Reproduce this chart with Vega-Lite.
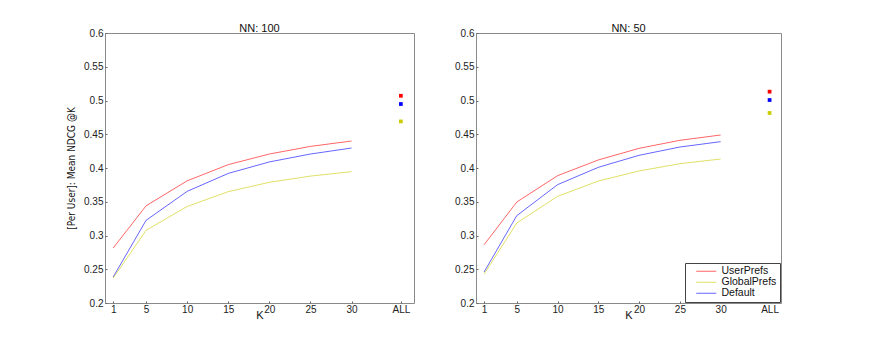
{
  "$schema": "https://vega.github.io/schema/vega-lite/v6.json",
  "padding": {"left": 66, "top": 22, "right": 0, "bottom": 0},
  "background": "white",
  "config": {
    "font": "Liberation Sans",
    "view": {"stroke": "#8a8a8a", "strokeWidth": 1},
    "axis": {
      "domain": false, "grid": false, "tickSize": -2, "tickColor": "#666",
      "labelFont": "Liberation Sans", "labelFontSize": 10, "labelColor": "#222",
      "titleFont": "Liberation Sans", "titleFontWeight": "normal", "titleColor": "#111"
    },
    "title": {"font": "Liberation Sans", "fontSize": 11, "fontWeight": "normal", "color": "#111", "offset": -6}
  },
  "datasets": {
    "ndcg": [
      {"nn": 100, "series": "UserPrefs", "k": 1, "v": 0.2815},
      {"nn": 100, "series": "UserPrefs", "k": 5, "v": 0.344},
      {"nn": 100, "series": "UserPrefs", "k": 10, "v": 0.381},
      {"nn": 100, "series": "UserPrefs", "k": 15, "v": 0.405},
      {"nn": 100, "series": "UserPrefs", "k": 20, "v": 0.4207},
      {"nn": 100, "series": "UserPrefs", "k": 25, "v": 0.432},
      {"nn": 100, "series": "UserPrefs", "k": 30, "v": 0.44},
      {"nn": 100, "series": "Default", "k": 1, "v": 0.2385},
      {"nn": 100, "series": "Default", "k": 5, "v": 0.3225},
      {"nn": 100, "series": "Default", "k": 10, "v": 0.3654},
      {"nn": 100, "series": "Default", "k": 15, "v": 0.392},
      {"nn": 100, "series": "Default", "k": 20, "v": 0.409},
      {"nn": 100, "series": "Default", "k": 25, "v": 0.4207},
      {"nn": 100, "series": "Default", "k": 30, "v": 0.4296},
      {"nn": 100, "series": "GlobalPrefs", "k": 1, "v": 0.237},
      {"nn": 100, "series": "GlobalPrefs", "k": 5, "v": 0.3077},
      {"nn": 100, "series": "GlobalPrefs", "k": 10, "v": 0.343},
      {"nn": 100, "series": "GlobalPrefs", "k": 15, "v": 0.365},
      {"nn": 100, "series": "GlobalPrefs", "k": 20, "v": 0.3788},
      {"nn": 100, "series": "GlobalPrefs", "k": 25, "v": 0.388},
      {"nn": 100, "series": "GlobalPrefs", "k": 30, "v": 0.3946},
      {"nn": 50, "series": "UserPrefs", "k": 1, "v": 0.2864},
      {"nn": 50, "series": "UserPrefs", "k": 5, "v": 0.3496},
      {"nn": 50, "series": "UserPrefs", "k": 10, "v": 0.3886},
      {"nn": 50, "series": "UserPrefs", "k": 15, "v": 0.4119},
      {"nn": 50, "series": "UserPrefs", "k": 20, "v": 0.4291},
      {"nn": 50, "series": "UserPrefs", "k": 25, "v": 0.441},
      {"nn": 50, "series": "UserPrefs", "k": 30, "v": 0.4489},
      {"nn": 50, "series": "Default", "k": 1, "v": 0.246},
      {"nn": 50, "series": "Default", "k": 5, "v": 0.3294},
      {"nn": 50, "series": "Default", "k": 10, "v": 0.3753},
      {"nn": 50, "series": "Default", "k": 15, "v": 0.401},
      {"nn": 50, "series": "Default", "k": 20, "v": 0.4188},
      {"nn": 50, "series": "Default", "k": 25, "v": 0.4311},
      {"nn": 50, "series": "Default", "k": 30, "v": 0.439},
      {"nn": 50, "series": "GlobalPrefs", "k": 1, "v": 0.243},
      {"nn": 50, "series": "GlobalPrefs", "k": 5, "v": 0.3185},
      {"nn": 50, "series": "GlobalPrefs", "k": 10, "v": 0.358},
      {"nn": 50, "series": "GlobalPrefs", "k": 15, "v": 0.3807},
      {"nn": 50, "series": "GlobalPrefs", "k": 20, "v": 0.3956},
      {"nn": 50, "series": "GlobalPrefs", "k": 25, "v": 0.4064},
      {"nn": 50, "series": "GlobalPrefs", "k": 30, "v": 0.4133}
    ],
    "all": [
      {"nn": 100, "series": "UserPrefs", "k": 36, "v": 0.507},
      {"nn": 100, "series": "Default", "k": 36, "v": 0.4948},
      {"nn": 100, "series": "GlobalPrefs", "k": 36, "v": 0.469},
      {"nn": 50, "series": "UserPrefs", "k": 36, "v": 0.5131},
      {"nn": 50, "series": "Default", "k": 36, "v": 0.5007},
      {"nn": 50, "series": "GlobalPrefs", "k": 36, "v": 0.4815}
    ]
  },
  "spacing": 39,
  "resolve": {"scale": {"color": "independent"}, "legend": {"color": "independent"}},
  "hconcat": [
    {
      "width": 309, "height": 270,
      "title": "NN: 100",
      "encoding": {
        "x": {"field": "k", "type": "quantitative",
              "scale": {"domain": [0, 37.6], "nice": false, "zero": false},
              "axis": {"values": [1, 5, 10, 15, 20, 25, 30, 36], "labelExpr": "datum.value == 36 ? 'ALL' : datum.label", "title": "K", "titleFontSize": 11, "titlePadding": -5, "labelPadding": 3, "labelFlush": false}},
        "y": {"field": "v", "type": "quantitative",
              "scale": {"domain": [0.2, 0.6], "nice": false, "zero": false},
              "axis": {"values": [0.2, 0.25, 0.3, 0.35, 0.4, 0.45, 0.5, 0.55, 0.6], "format": ".2~f", "title": "[Per User]: Mean NDCG @K", "titleFont": "DejaVu Sans Condensed, Liberation Sans", "titleFontSize": 10, "titlePadding": 7, "labelPadding": 4}},
        "color": {"field": "series", "type": "nominal",
                  "scale": {"domain": ["UserPrefs", "GlobalPrefs", "Default"], "range": ["#ff0000", "#cccc00", "#0000ff"]},
                  "legend": null}
      },
      "layer": [
        {"data": {"name": "ndcg"}, "transform": [{"filter": "datum.nn == 100"}],
         "mark": {"type": "line", "strokeWidth": 1, "opacity": 0.6}},
        {"data": {"name": "all"}, "transform": [{"filter": "datum.nn == 100"}],
         "mark": {"type": "square", "size": 14, "filled": true, "opacity": 1}}
      ]
    },
    {
      "width": 305, "height": 270,
      "title": "NN: 50",
      "encoding": {
        "x": {"field": "k", "type": "quantitative",
              "scale": {"domain": [0, 37.4], "nice": false, "zero": false},
              "axis": {"values": [1, 5, 10, 15, 20, 25, 30, 36], "labelExpr": "datum.value == 36 ? 'ALL' : datum.label", "title": "K", "titleFontSize": 11, "titlePadding": -5, "labelPadding": 3, "labelFlush": false}},
        "y": {"field": "v", "type": "quantitative",
              "scale": {"domain": [0.2, 0.6], "nice": false, "zero": false},
              "axis": {"values": [0.2, 0.25, 0.3, 0.35, 0.4, 0.45, 0.5, 0.55, 0.6], "format": ".2~f", "title": null, "labelPadding": 4}},
        "color": {"field": "series", "type": "nominal",
                  "scale": {"domain": ["UserPrefs", "GlobalPrefs", "Default"], "range": ["#ff0000", "#cccc00", "#0000ff"]}}
      },
      "layer": [
        {"data": {"name": "ndcg"}, "transform": [{"filter": "datum.nn == 50"}],
         "mark": {"type": "line", "strokeWidth": 1, "opacity": 0.6},
         "encoding": {"color": {"field": "series", "type": "nominal",
            "scale": {"domain": ["UserPrefs", "GlobalPrefs", "Default"], "range": ["#ff0000", "#cccc00", "#0000ff"]},
            "legend": {"title": null, "orient": "bottom-right", "offset": 1, "symbolType": "M-4,0L4,0", "symbolSize": 25, "symbolOffset": 13, "symbolStrokeWidth": 1, "symbolOpacity": 0.6, "labelFontSize": 10.5, "labelColor": "#111", "labelFont": "Liberation Sans", "strokeColor": "#444", "padding": 3, "rowPadding": 0, "labelOffset": 10, "fillColor": "white", "cornerRadius": 0}}}},
        {"data": {"name": "all"}, "transform": [{"filter": "datum.nn == 50"}],
         "mark": {"type": "square", "size": 14, "filled": true, "opacity": 1},
         "encoding": {"color": {"field": "series", "type": "nominal",
            "scale": {"domain": ["UserPrefs", "GlobalPrefs", "Default"], "range": ["#ff0000", "#cccc00", "#0000ff"]},
            "legend": null}}}
      ]
    }
  ]
}
